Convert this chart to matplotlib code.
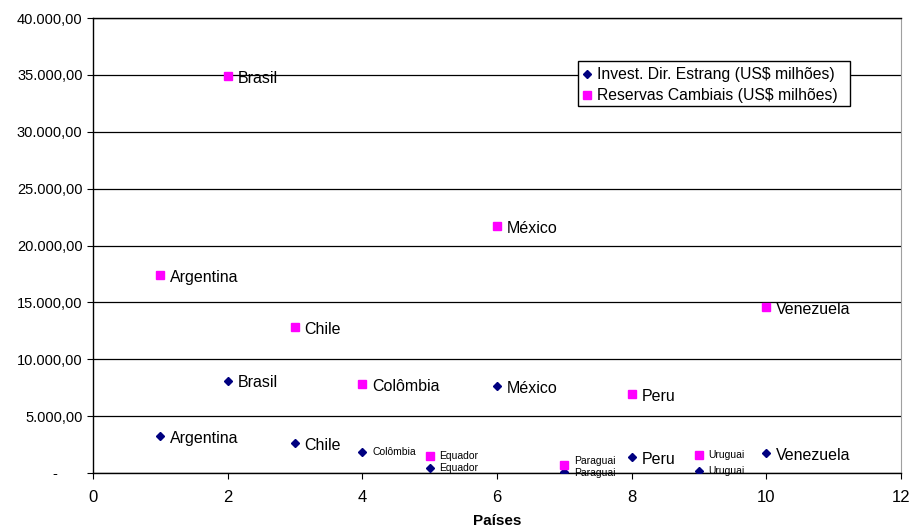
import matplotlib
matplotlib.use("Agg")
import matplotlib.pyplot as plt
from matplotlib.patches import Rectangle
from matplotlib.ticker import FuncFormatter, MultipleLocator

plt.rcParams['font.family'] = ['Liberation Sans', 'DejaVu Sans']

# Country index on the x axis
paises = ["Argentina", "Brasil", "Chile", "Colômbia", "Equador",
          "México", "Paraguai", "Peru", "Uruguai", "Venezuela"]
x_pos = [1, 2, 3, 4, 5, 6, 7, 8, 9, 10]

# Values in US$ millions
invest_dir = [3250, 8100, 2640, 1850, 450, 7650, 100, 1400, 170, 1750]
reservas = [17400, 34900, 12800, 7800, 1500, 21700, 700, 6950, 1580, 14600]

# Crowded labels near zero use a smaller font
small_inv = {"Colômbia", "Equador", "Paraguai", "Uruguai"}
small_res = {"Equador", "Paraguai", "Uruguai"}
# vertical nudges (points) for labels that sit on top of each other
nudge_inv = {"Paraguai": -0.8}
nudge_res = {"Paraguai": 2.6}

W, H = 913, 529
fig = plt.figure(figsize=(W / 100, H / 100), dpi=100)
ax = fig.add_axes([93 / W, 56 / H, 808 / W, 455 / H])

ax.plot(x_pos, invest_dir, linestyle="none", marker="D", markersize=4.2,
        color="#000080", label="Invest. Dir. Estrang (US$ milhões)", zorder=3)
ax.plot(x_pos, reservas, linestyle="none", marker="s", markersize=6.2,
        color="#FF00FF", label="Reservas Cambiais (US$ milhões)", zorder=3)


def label_points(values, small_set, nudges):
    for nome, x, y in zip(paises, x_pos, values):
        small = nome in small_set
        dy = nudges.get(nome, 0 if small else -1.5)
        ax.annotate(nome, (x, y), xytext=(7, dy), textcoords="offset points",
                    va="center", ha="left", fontsize=7.5 if small else 11.5,
                    zorder=4)


label_points(invest_dir, small_inv, nudge_inv)
label_points(reservas, small_res, nudge_res)

ax.set_xlim(0, 12)
ax.set_ylim(0, 40000)
ax.xaxis.set_major_locator(MultipleLocator(2))
ax.yaxis.set_major_locator(MultipleLocator(5000))


def fmt_brl(v, pos):
    if v == 0:
        return "-      "
    s = f"{v:,.2f}"
    return s.replace(",", "X").replace(".", ",").replace("X", ".")


ax.yaxis.set_major_formatter(FuncFormatter(fmt_brl))
ax.tick_params(axis="both", direction="out", length=4, width=0.8,
               color="black")
ax.tick_params(axis="y", labelsize=10.5, pad=3.5)
ax.tick_params(axis="x", labelsize=12, pad=8)
ax.grid(axis="y", color="black", linewidth=0.9)
ax.set_axisbelow(True)
for side in ("left", "bottom", "top"):
    ax.spines[side].set_color("black")
    ax.spines[side].set_linewidth(1.0)
ax.spines["right"].set_color("#a0a0a0")

ax.set_xlabel("Países", fontsize=11, fontweight="bold")
ax.xaxis.label.set_va("center")
ax.xaxis.set_label_coords(0.5, -(521 - 473) / 455)

# Plain box behind the legend entries
box = Rectangle((578 / W, 1 - 106 / H), 272 / W, 45 / H,
                transform=fig.transFigure, facecolor="white",
                edgecolor="black", linewidth=1.0, zorder=5, clip_on=False)
ax.add_patch(box)

leg = ax.legend(loc="upper left",
                bbox_to_anchor=(582 / W, 1 - 67 / H),
                bbox_transform=fig.transFigure,
                frameon=False, fontsize=11.3,
                handlelength=0.6, handletextpad=0.35, borderpad=0,
                labelspacing=0.39, borderaxespad=0)
leg.set_zorder(6)

fig.savefig("out.png", dpi=100)
